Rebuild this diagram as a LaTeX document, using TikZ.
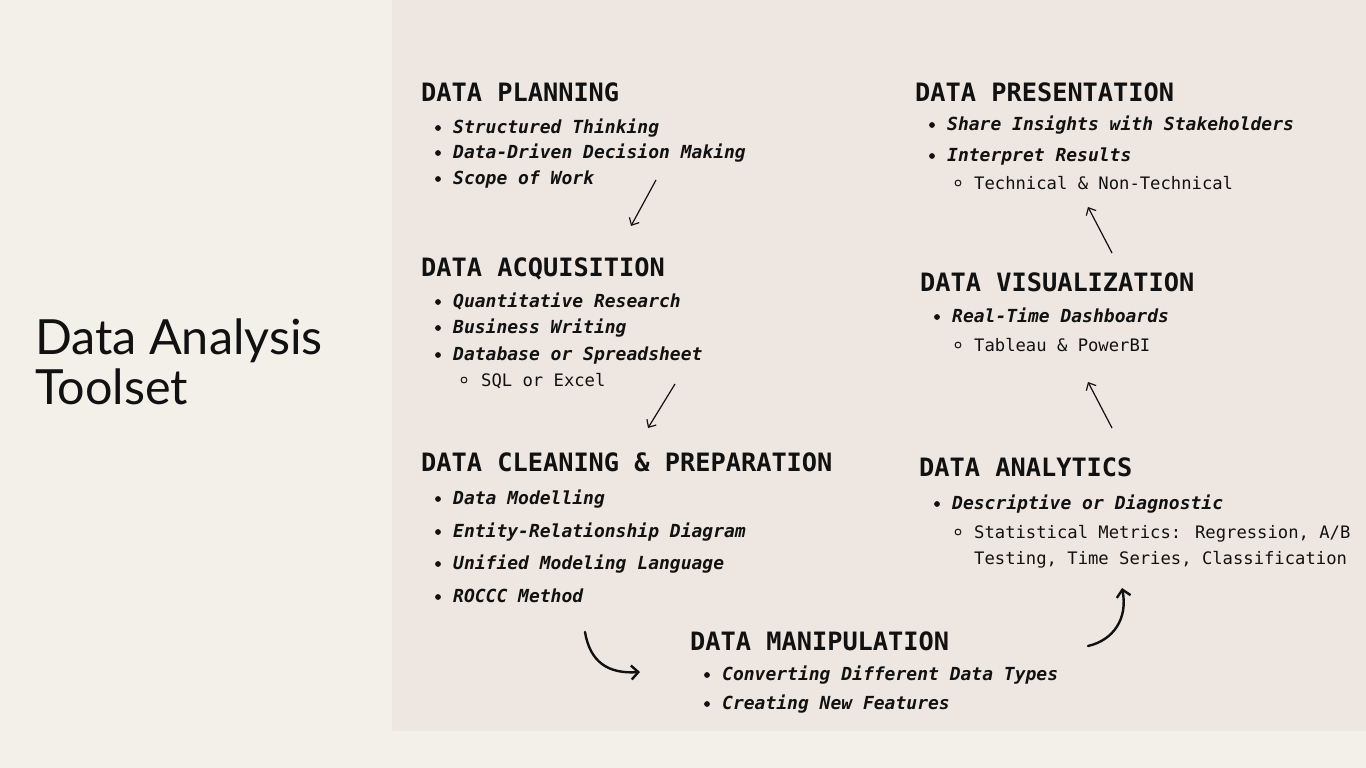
\documentclass[tikz,border=0pt]{standalone}
\usepackage{fontspec}
\usetikzlibrary{arrows.meta}
\newfontfamily\mono{DejaVu Sans Mono}
\newfontfamily\titlefont{Lato}
\definecolor{bgleft}{HTML}{F3F0EA}
\definecolor{bgpanel}{HTML}{EEE7E1}
\definecolor{ink}{HTML}{111111}
\begin{document}
\begin{tikzpicture}[x=1pt,y=-1pt,
  every node/.style={inner sep=0pt,anchor=base west,text=ink},
  head/.style={font=\mono\bfseries\fontsize{25.3}{28}\selectfont},
  item/.style={font=\mono\bfseries\itshape\fontsize{18}{20}\selectfont},
  sub/.style={font=\mono\fontsize{17.2}{19}\selectfont},
  thinarrow/.style={draw=ink,line width=1.2pt,-{Straight Barb[length=6pt,width=11pt,line width=1.2pt]}},
  thickarrow/.style={draw=ink,line width=2.4pt,line cap=round,-{Straight Barb[length=7pt,width=14pt,line width=2.4pt]}}]
\fill[bgleft] (0,0) rectangle (1366,768);
\fill[bgpanel] (392,0) rectangle (1366,731);
\useasboundingbox (0,0) rectangle (1366,768);
\newcommand\dotb[2]{\fill[ink] (#1,#2) circle (2.9pt);}
\newcommand\ring[2]{\draw[ink,line width=1pt] (#1,#2) circle (2.9pt);}
% title
\node[font=\titlefont\fontsize{48.5}{50}\selectfont] (t1) at (35,354) {Data Analysis};
\node[font=\titlefont\fontsize{48.5}{50}\selectfont] (t2) at (35,404) {Toolset};
% planning
\node[head] (plan) at (421,101) {DATA PLANNING};
\node[item] (p1) at (453,133) {Structured Thinking}; \dotb{438}{128}
\node[item] (p2) at (453,158) {Data-Driven Decision Making}; \dotb{438}{153}
\node[item] (p3) at (453,184) {Scope of Work}; \dotb{438}{179}
% acquisition
\node[head] (acq) at (421,276) {DATA ACQUISITION};
\node[item] (a1) at (453,307) {Quantitative Research}; \dotb{438}{302}
\node[item] (a2) at (453,333) {Business Writing}; \dotb{438}{328}
\node[item] (a3) at (453,360) {Database or Spreadsheet}; \dotb{438}{355}
\node[sub] (a4) at (481,386) {SQL or Excel}; \ring{464}{380}
% cleaning
\node[head] (cln) at (421,471) {DATA CLEANING \& PREPARATION};
\node[item] (c1) at (453,504) {Data Modelling}; \dotb{438}{499}
\node[item] (c2) at (453,537) {Entity-Relationship Diagram}; \dotb{438}{532}
\node[item] (c3) at (453,569) {Unified Modeling Language}; \dotb{438}{564}
\node[item] (c4) at (453,602) {ROCCC Method}; \dotb{438}{597}
% manipulation
\node[head] (man) at (690,650) {DATA MANIPULATION};
\node[item] (m1) at (722,680) {Converting Different Data Types}; \dotb{707}{675}
\node[item] (m2) at (722,709) {Creating New Features}; \dotb{707}{704}
% analytics
\node[head] (ana) at (919,476) {DATA ANALYTICS};
\node[item] (n1) at (952,509) {Descriptive or Diagnostic}; \dotb{937}{504}
\node[sub] (n2) at (974,538) {Statistical Metrics: Regression, A/B}; \ring{958}{532}
\node[sub] (n3) at (974,564) {Testing, Time Series, Classification};
% visualization
\node[head] (vis) at (920,291) {DATA VISUALIZATION};
\node[item] (v1) at (952,322) {Real-Time Dashboards}; \dotb{937}{317}
\node[sub] (v2) at (974,351) {Tableau \& PowerBI}; \ring{958}{345}
% presentation
\node[head] (pre) at (915,101) {DATA PRESENTATION};
\node[item] (r1) at (947,130) {Share Insights with Stakeholders}; \dotb{932}{125}
\node[item] (r2) at (947,161) {Interpret Results}; \dotb{932}{156}
\node[sub] (r3) at (974,189) {Technical \& Non-Technical}; \ring{958}{183}
% connector endpoints
\coordinate (e1s) at (656,180); \coordinate (e1e) at (631,226);
\coordinate (e2s) at (675,384); \coordinate (e2e) at (648,428);
\coordinate (e3s) at (585,632); \coordinate (e3e) at (640,672);
\coordinate (e4s) at (1088,646); \coordinate (e4e) at (1122,588);
\coordinate (e5s) at (1112,428); \coordinate (e5e) at (1088,382);
\coordinate (e6s) at (1112,253); \coordinate (e6e) at (1088,207);
\draw[thinarrow] (e1s) -- (e1e);
\draw[thinarrow] (e2s) -- (e2e);
\draw[thickarrow] (e3s) .. controls (590,662) and (608,674) .. (e3e);
\draw[thickarrow] (e4s) .. controls (1114,640) and (1128,618) .. (e4e);
\draw[thinarrow] (e5s) -- (e5e);
\draw[thinarrow] (e6s) -- (e6e);
\end{tikzpicture}
\end{document}
